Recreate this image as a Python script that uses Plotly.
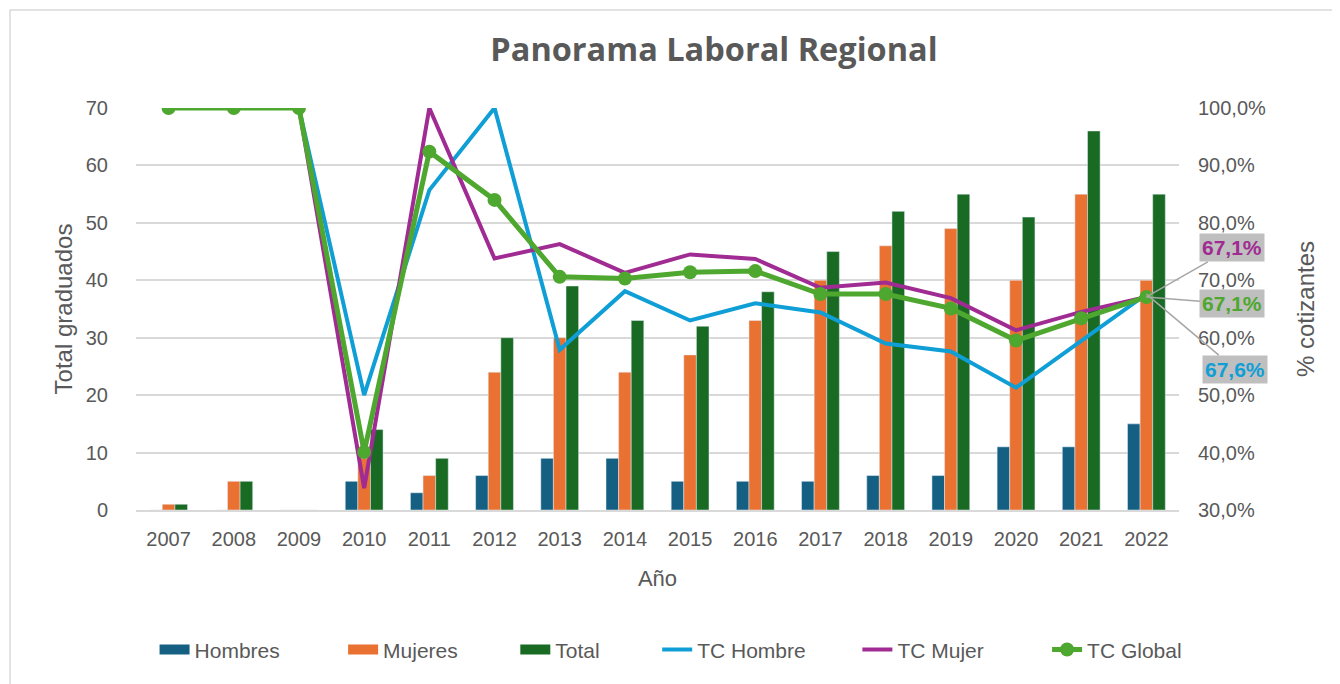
import plotly.graph_objects as go

# Años y datos
anios = ["2007", "2008", "2009", "2010", "2011", "2012", "2013", "2014",
         "2015", "2016", "2017", "2018", "2019", "2020", "2021", "2022"]
hombres = [0, 0, 0, 5, 3, 6, 9, 9, 5, 5, 5, 6, 6, 11, 11, 15]
mujeres = [1, 5, 0, 9, 6, 24, 30, 24, 27, 33, 40, 46, 49, 40, 55, 40]
total = [1, 5, 0, 14, 9, 30, 39, 33, 32, 38, 45, 52, 55, 51, 66, 55]
tc_hombre = [100, 100, 100, 50.0, 85.7, 100, 57.9, 68.1, 63.0, 66.0, 64.4, 59.0, 57.6, 51.3, 59.5, 67.6]
tc_mujer = [100, 100, 100, 33.8, 100, 73.8, 76.3, 71.3, 74.5, 73.7, 68.7, 69.6, 66.9, 61.3, 64.5, 67.1]
tc_global = [100, 100, 100, 40.1, 92.4, 84.0, 70.6, 70.3, 71.4, 71.6, 67.6, 67.6, 65.1, 59.5, 63.4, 67.1]

GRIS = "#595959"
FUENTE = "Liberation Sans"
NB = "\u00a0"
colores_barras = {"Hombres": "#156082", "Mujeres": "#E97132", "Total": "#196B24"}
espacios = {"Hombres": 10, "Mujeres": 9, "Total": 9, "TC Hombre": 8, "TC Mujer": 10, "TC Global": 0}

# la página añade 8 px de margen al cuerpo
W, H = 1332, 676
L, T, PW, PH = 128, 100, 1043, 402

fig = go.Figure()

# Barras (eje izquierdo); la leyenda se dibuja con trazas vacías
for nombre, valores in [("Hombres", hombres), ("Mujeres", mujeres), ("Total", total)]:
    fig.add_trace(go.Bar(x=anios, y=valores, name=nombre, marker_color=colores_barras[nombre],
                         showlegend=False))
    fig.add_trace(go.Scatter(x=[None], y=[None], name=nombre + NB * espacios[nombre], mode="lines",
                             line=dict(color=colores_barras[nombre], width=14)))

# Tasas de cotización (eje derecho)
fig.add_trace(go.Scatter(x=anios, y=tc_hombre, name="TC Hombre" + NB * espacios["TC Hombre"],
                         yaxis="y2", mode="lines", line=dict(color="#0F9ED5", width=4)))
fig.add_trace(go.Scatter(x=anios, y=tc_mujer, name="TC Mujer" + NB * espacios["TC Mujer"],
                         yaxis="y2", mode="lines", line=dict(color="#A02B93", width=4)))
fig.add_trace(go.Scatter(x=anios, y=tc_global, name="TC Global", yaxis="y2", mode="lines+markers",
                         line=dict(color="#4EA72E", width=5), marker=dict(size=14, color="#4EA72E")))

# Etiquetas del último año
def fmt(v):
    return f"{v:.1f}".replace(".", ",") + "%"

ultimo = len(anios) - 1
etiquetas = [
    (tc_mujer[-1], "#A02B93", 86, -49),
    (tc_global[-1], "#4EA72E", 86, 7),
    (tc_hombre[-1], "#0F9ED5", 89, 75),
]
for valor, color, ax, ay in etiquetas:
    fig.add_annotation(x=ultimo, y=valor, xref="x", yref="y2", text=f"<b>{fmt(valor)}</b>",
                       font=dict(family=FUENTE, size=21, color=color), bgcolor="#BFBFBF",
                       showarrow=True, arrowhead=0, arrowwidth=1.5, arrowcolor="#A6A6A6",
                       ax=ax, ay=ay, borderpad=2)

fig.update_layout(
    width=W, height=H,
    margin=dict(l=L, r=W - L - PW, t=T, b=H - T - PH),
    paper_bgcolor="white", plot_bgcolor="white",
    separators=",.",
    barmode="group", bargap=0.42, bargroupgap=0,
    title=dict(text="<b>Panorama Laboral Regional</b>", x=706 / W, xanchor="center",
               y=1 - 42 / H, yanchor="middle", yref="container",
               font=dict(family="Open Sans", size=32.5, color=GRIS)),
    font=dict(family=FUENTE, color=GRIS),
    xaxis=dict(type="category", range=[-0.5, len(anios) - 0.5], showgrid=False,
               showline=True, linecolor="#D9D9D9", linewidth=1.5,
               tickfont=dict(size=20, color=GRIS), ticklabelstandoff=10,
               title=dict(text="Año", font=dict(size=22, color=GRIS), standoff=22)),
    yaxis=dict(range=[0, 70], dtick=10, showgrid=True, gridcolor="#D9D9D9", gridwidth=1.5,
               zeroline=False, tickfont=dict(size=20, color=GRIS), ticklabelstandoff=27,
               title=dict(text="Total graduados", font=dict(size=24, color=GRIS), standoff=6)),
    yaxis2=dict(range=[30, 100], dtick=10, overlaying="y", side="right", showgrid=False,
                zeroline=False, tickformat=".1f", ticksuffix="%",
                tickfont=dict(size=20, color=GRIS), ticklabelstandoff=18,
                title=dict(text="% cotizantes", font=dict(size=24, color=GRIS), standoff=32)),
    legend=dict(orientation="h", x=0.513, xanchor="center", y=-0.348, yanchor="middle",
                font=dict(size=21, color=GRIS), traceorder="normal"),
    showlegend=True,
)

# Borde del área del gráfico
fig.add_shape(type="rect", xref="paper", yref="paper",
              x0=(2 - L) / PW, x1=(W + 10 - L) / PW,
              y0=(T + PH - (H + 10)) / PH, y1=(T + PH - 2) / PH,
              line=dict(color="#D9D9D9", width=1.5), layer="below")

fig.write_html("out.html")
